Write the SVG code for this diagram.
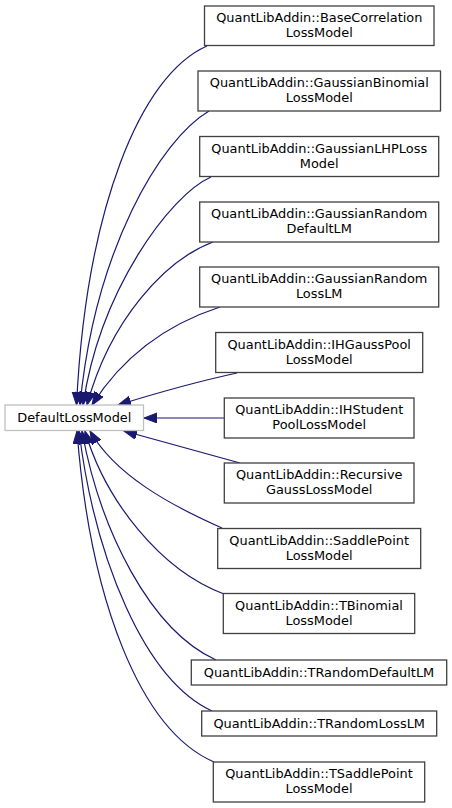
<svg xmlns="http://www.w3.org/2000/svg" width="452" height="808" viewBox="0 0 452 808">
<style>
.n rect{fill:#ffffff;stroke:#404040;stroke-width:1.3}
#DefaultLossModel rect{stroke:#bfbfbf}
text{font-family:"DejaVu Sans",sans-serif;font-size:12.9px;fill:#000;text-anchor:middle}
.e path{fill:none;stroke:#191970;stroke-width:1.2;marker-end:url(#ah)}
</style>
<defs>
<marker id="ah" markerUnits="userSpaceOnUse" markerWidth="15" markerHeight="12" refX="13" refY="5" orient="auto" viewBox="0 0 15 12">
<path d="M0,0 L13,5 L0,10 z" fill="#191970" stroke="#191970" stroke-width="1"/>
</marker>
</defs>
<rect width="452" height="808" fill="#ffffff"/>
<g class="e" id="edges">
<path d="M207,46 C140,75 86,210 76.5,405"/>
<path d="M209,111 C160,140 95,250 80,405"/>
<path d="M211,177 C170,195 100,290 83,405"/>
<path d="M213,242 C165,260 110,320 87,405"/>
<path d="M220,307 C180,320 130,345 92,405"/>
<path d="M237,373 C200,381 160,392 118,405"/>
<path d="M224,418 L144,418"/>
<path d="M240,463 C200,452 160,441 124,431"/>
<path d="M222,528 C170,505 115,475 90,431"/>
<path d="M224,594 C160,570 105,500 85,431"/>
<path d="M216,660 C150,630 100,530 82,431"/>
<path d="M212,711 C145,680 95,560 79,431"/>
<path d="M214,762 C140,730 90,600 77,431"/>
</g>
<g class="n" id="DefaultLossModel"><rect x="5" y="405" width="138.5" height="25.5"/><text x="74.3" y="421.5">DefaultLossModel</text></g>
<g class="n" id="BaseCorrelationLossModel"><rect x="204.5" y="6" width="229.5" height="39.5"/><text x="319.3" y="22">QuantLibAddin::BaseCorrelation</text><text x="319.3" y="37">LossModel</text></g>
<g class="n" id="GaussianBinomialLossModel"><rect x="198" y="71" width="242.5" height="40"/><text x="319.3" y="87">QuantLibAddin::GaussianBinomial</text><text x="319.3" y="102">LossModel</text></g>
<g class="n" id="GaussianLHPLossModel"><rect x="199.7" y="136.5" width="239" height="40"/><text x="319.2" y="152.5">QuantLibAddin::GaussianLHPLoss</text><text x="319.2" y="167.5">Model</text></g>
<g class="n" id="GaussianRandomDefaultLM"><rect x="199.7" y="202" width="239" height="40"/><text x="319.2" y="218">QuantLibAddin::GaussianRandom</text><text x="319.2" y="233">DefaultLM</text></g>
<g class="n" id="GaussianRandomLossLM"><rect x="199.7" y="267" width="239" height="40"/><text x="319.2" y="283">QuantLibAddin::GaussianRandom</text><text x="319.2" y="298">LossLM</text></g>
<g class="n" id="IHGaussPoolLossModel"><rect x="215.7" y="332.5" width="207" height="40"/><text x="319.2" y="348.5">QuantLibAddin::IHGaussPool</text><text x="319.2" y="363.5">LossModel</text></g>
<g class="n" id="IHStudentPoolLossModel"><rect x="224.3" y="398" width="189.7" height="40"/><text x="319.2" y="414">QuantLibAddin::IHStudent</text><text x="319.2" y="429">PoolLossModel</text></g>
<g class="n" id="RecursiveGaussLossModel"><rect x="224.3" y="463" width="189.7" height="40"/><text x="319.2" y="479">QuantLibAddin::Recursive</text><text x="319.2" y="494">GaussLossModel</text></g>
<g class="n" id="SaddlePointLossModel"><rect x="217.7" y="528.5" width="203" height="40"/><text x="319.2" y="544.5">QuantLibAddin::SaddlePoint</text><text x="319.2" y="559.5">LossModel</text></g>
<g class="n" id="TBinomialLossModel"><rect x="223.3" y="593.5" width="191.4" height="40"/><text x="319" y="609.5">QuantLibAddin::TBinomial</text><text x="319" y="624.5">LossModel</text></g>
<g class="n" id="TRandomDefaultLM"><rect x="191.3" y="660" width="255.4" height="25"/><text x="319" y="676.5">QuantLibAddin::TRandomDefaultLM</text></g>
<g class="n" id="TRandomLossLM"><rect x="201.7" y="711" width="235" height="25"/><text x="319.2" y="727.5">QuantLibAddin::TRandomLossLM</text></g>
<g class="n" id="TSaddlePointLossModel"><rect x="213.3" y="762" width="211.4" height="40"/><text x="319" y="778">QuantLibAddin::TSaddlePoint</text><text x="319" y="793">LossModel</text></g>
</svg>
